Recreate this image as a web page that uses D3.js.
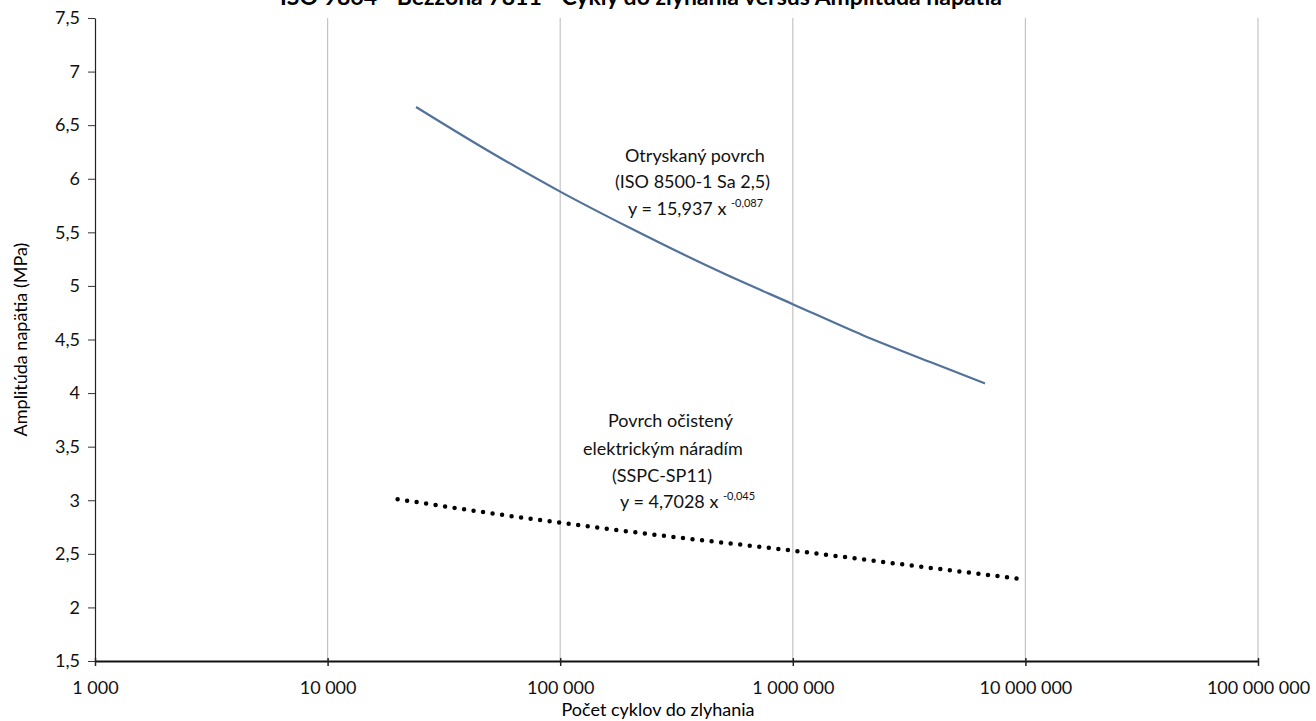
<!DOCTYPE html>
<html lang="sk">
<head>
<meta charset="utf-8"/>
<title>Cykly do zlyhania versus Amplitúda napätia</title>
<script src="https://cdn.jsdelivr.net/npm/d3@7"></script>
<style>
  body { margin: 0; background: #fff; }
  svg { display: block; font-family: Lato, "Open Sans", sans-serif; }
</style>
</head>
<body>
<svg id="chart"></svg>
<script>
// values
const xTicks = [1e3, 1e4, 1e5, 1e6, 1e7, 1e8]
const yTicks = [1.5, 2, 2.5, 3, 3.5, 4, 4.5, 5, 5.5, 6, 6.5, 7, 7.5]

// Otryskaný povrch (blue solid)
const blastCycles = [24000, 50000, 100000, 200000, 500000, 1000000, 2000000, 4000000, 6700000]
const blastStress = [6.67, 6.25, 5.88, 5.54, 5.12, 4.83, 4.54, 4.28, 4.09]

// Povrch očistený elektrickým náradím (black dotted)
const toolCycles = [20000, 50000, 100000, 300000, 1000000, 3000000, 10000000]
const toolStress = [3.01, 2.88, 2.79, 2.66, 2.53, 2.40, 2.26]

const width = 1316
const height = 721
const margin = {top: 18, right: 58, bottom: 60, left: 95}

const svg = d3.select('#chart')
  .attr('width', width)
  .attr('height', height)

const x = d3.scaleLog()
  .domain([1e3, 1e8])
  .range([margin.left, width - margin.right])

const y = d3.scaleLinear()
  .domain([1.5, 7.5])
  .range([height - margin.bottom, margin.top])

const loc = d3.formatLocale({decimal: ',', thousands: '\u00a0', grouping: [3], currency: ['', '']})
const fmtX = loc.format(',d')
const fmtY = d => String(d).replace('.', ',')

// title, cut by the top edge like in the original
svg.append('text')
  .attr('x', 280)
  .attr('y', 5)
  .attr('font-size', 23)
  .attr('font-weight', 'bold')
  .text('ISO 9864 - Bežzóna 7811 - Cykly do zlyhania versus Amplitúda napätia')

// vertical gridlines
svg.append('g')
  .selectAll('line')
  .data(xTicks.slice(1))
  .enter()
  .append('line')
  .attr('x1', d => x(d))
  .attr('x2', d => x(d))
  .attr('y1', y(7.5))
  .attr('y2', y(1.5))
  .attr('stroke', '#c4c4c4')
  .attr('stroke-width', 1.2)

// y axis
const yAxis = svg.append('g')
  .attr('transform', `translate(${margin.left},0)`)
  .call(d3.axisLeft(y).tickValues(yTicks).tickFormat(fmtY).tickSize(7).tickPadding(8).tickSizeOuter(0))
yAxis.select('.domain').attr('stroke', '#222').attr('stroke-width', 1.2)
yAxis.selectAll('.tick line').attr('stroke', '#333')
yAxis.selectAll('text').attr('font-size', 18).attr('font-family', 'Lato').attr('fill', '#111')

// x axis
const xAxis = svg.append('g')
  .attr('transform', `translate(0,${y(1.5)})`)
  .call(d3.axisBottom(x).tickValues(xTicks).tickFormat(fmtX).tickSize(5).tickPadding(15).tickSizeOuter(0))
xAxis.select('.domain').attr('stroke', '#111').attr('stroke-width', 2)
xAxis.selectAll('.tick line').attr('stroke', '#222').attr('stroke-width', 1.5).attr('y1', -3)
xAxis.selectAll('text').attr('font-size', 18).attr('font-family', 'Lato').attr('fill', '#111')

// axis titles
svg.append('text')
  .attr('x', 658)
  .attr('y', 716)
  .attr('text-anchor', 'middle')
  .attr('font-size', 18)
  .text('Počet cyklov do zlyhania')

svg.append('text')
  .attr('transform', `translate(27,${(y(1.5) + y(7.5)) / 2}) rotate(-90)`)
  .attr('text-anchor', 'middle')
  .attr('font-size', 18)
  .text('Amplitúda napätia (MPa)')

const line = d3.line()
  .x(d => x(d[0]))
  .y(d => y(d[1]))
  .curve(d3.curveMonotoneX)

svg.append('path')
  .datum(d3.zip(blastCycles, blastStress))
  .attr('d', line)
  .attr('fill', 'none')
  .attr('stroke', '#52729b')
  .attr('stroke-width', 2.2)

svg.append('path')
  .datum(d3.zip(toolCycles, toolStress))
  .attr('d', line)
  .attr('fill', 'none')
  .attr('stroke', '#000')
  .attr('stroke-width', 4.5)
  .attr('stroke-linecap', 'round')
  .attr('stroke-dasharray', '0 9.6')

// trend line labels
const labels = [
  {x: 625, y: 162, t: 'Otryskaný povrch'},
  {x: 615, y: 188, t: '(ISO 8500-1 Sa 2,5)'},
  {x: 628, y: 215, t: 'y = 15,937 x ', sup: '-0,087'},
  {x: 608, y: 427, t: 'Povrch očistený'},
  {x: 583, y: 455, t: 'elektrickým náradím'},
  {x: 612, y: 482, t: '(SSPC-SP11)'},
  {x: 620, y: 508, t: 'y = 4,7028 x ', sup: '-0,045'}
]

labels.forEach(l => {
  const t = svg.append('text')
    .attr('x', l.x)
    .attr('y', l.y)
    .attr('font-size', 18)
    .attr('fill', '#111')
    .attr('xml:space', 'preserve')
    .text(l.t)
  if (l.sup) {
    t.append('tspan')
      .attr('dy', -8)
      .attr('font-size', 11)
      .text(l.sup)
  }
})
</script>
</body>
</html>
